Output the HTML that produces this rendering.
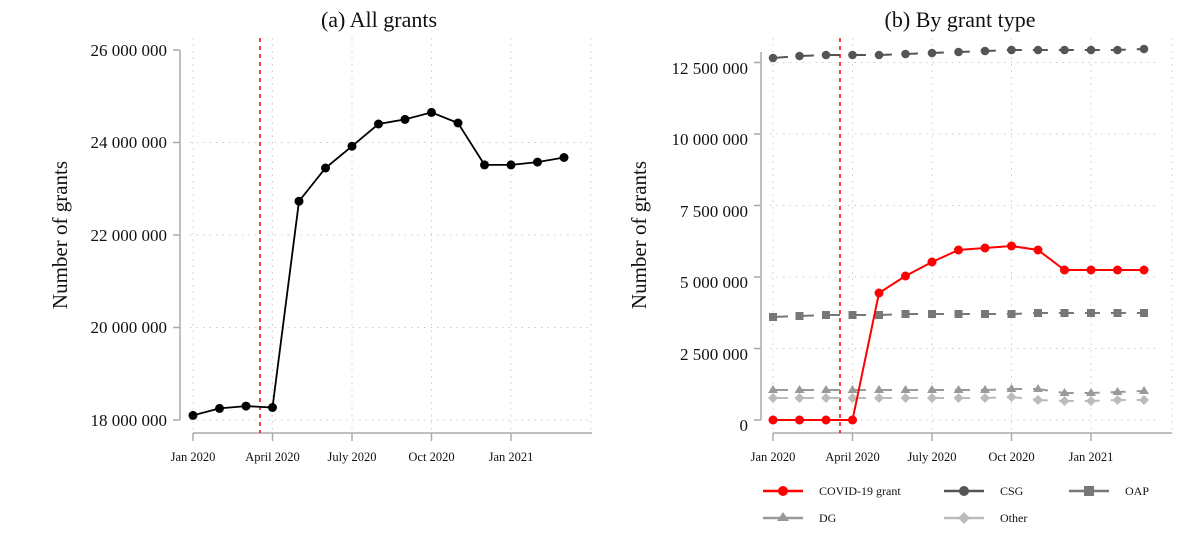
<!DOCTYPE html>
<html><head><meta charset="utf-8"><style>
html,body{margin:0;padding:0;background:#fff;}
svg{display:block;font-family:"Liberation Serif",serif;}
</style></head><body>
<svg width="1200" height="541" viewBox="0 0 1200 541" xmlns="http://www.w3.org/2000/svg">
<rect width="1200" height="541" fill="#fff"/>
<!-- LEFT PANEL -->
<text x="379" y="27" font-size="22" text-anchor="middle" fill="#111">(a) All grants</text>
<g stroke="#ccc" stroke-width="1" stroke-dasharray="1.5 5">
<line x1="193" y1="38" x2="193" y2="432"/><line x1="272.5" y1="38" x2="272.5" y2="432"/><line x1="352" y1="38" x2="352" y2="432"/><line x1="431.5" y1="38" x2="431.5" y2="432"/><line x1="511" y1="38" x2="511" y2="432"/><line x1="591" y1="38" x2="591" y2="432"/>
<line x1="190" y1="142.5" x2="590" y2="142.5"/><line x1="190" y1="235" x2="590" y2="235"/><line x1="190" y1="327.5" x2="590" y2="327.5"/><line x1="190" y1="420" x2="590" y2="420"/>
</g>
<g stroke="#aaa" stroke-width="1.5" fill="none">
<line x1="180" y1="50" x2="180" y2="420"/>
<line x1="173" y1="50" x2="180" y2="50"/><line x1="173" y1="142.5" x2="180" y2="142.5"/><line x1="173" y1="235" x2="180" y2="235"/><line x1="173" y1="327.5" x2="180" y2="327.5"/><line x1="173" y1="420" x2="180" y2="420"/>
<line x1="193" y1="433" x2="592" y2="433"/>
<line x1="193" y1="433" x2="193" y2="441"/><line x1="272.5" y1="433" x2="272.5" y2="441"/><line x1="352" y1="433" x2="352" y2="441"/><line x1="431.5" y1="433" x2="431.5" y2="441"/><line x1="511" y1="433" x2="511" y2="441"/>
</g>
<g font-size="17" text-anchor="end" fill="#111">
<text x="167" y="56">26 000 000</text><text x="167" y="148">24 000 000</text><text x="167" y="241">22 000 000</text><text x="167" y="333">20 000 000</text><text x="167" y="426">18 000 000</text>
</g>
<g font-size="12.5" text-anchor="middle" fill="#111">
<text x="193" y="461">Jan 2020</text><text x="272.5" y="461">April 2020</text><text x="352" y="461">July 2020</text><text x="431.5" y="461">Oct 2020</text><text x="511" y="461">Jan 2021</text>
</g>
<text transform="translate(67,235) rotate(-90)" font-size="21" text-anchor="middle" fill="#111">Number of grants</text>
<line x1="260" y1="38" x2="260" y2="433" stroke="#f00" stroke-width="1.5" stroke-dasharray="4 4"/>
<polyline fill="none" stroke="#000" stroke-width="1.8" points="193,415.4 219.5,408.4 246,406.1 272.5,407.5 299,201.2 325.5,168 352,146.2 378.5,124 405,119.4 431.5,112.4 458,123 484.5,164.9 511,164.9 537.5,162.1 564,157.5"/>
<g fill="#000">
<circle cx="193" cy="415.4" r="4.5"/><circle cx="219.5" cy="408.4" r="4.5"/><circle cx="246" cy="406.1" r="4.5"/><circle cx="272.5" cy="407.5" r="4.5"/><circle cx="299" cy="201.2" r="4.5"/><circle cx="325.5" cy="168" r="4.5"/><circle cx="352" cy="146.2" r="4.5"/><circle cx="378.5" cy="124" r="4.5"/><circle cx="405" cy="119.4" r="4.5"/><circle cx="431.5" cy="112.4" r="4.5"/><circle cx="458" cy="123" r="4.5"/><circle cx="484.5" cy="164.9" r="4.5"/><circle cx="511" cy="164.9" r="4.5"/><circle cx="537.5" cy="162.1" r="4.5"/><circle cx="564" cy="157.5" r="4.5"/>
</g>

<!-- RIGHT PANEL -->
<text x="960" y="27" font-size="22" text-anchor="middle" fill="#111">(b) By grant type</text>
<g stroke="#ccc" stroke-width="1" stroke-dasharray="1.5 5">
<line x1="773" y1="38" x2="773" y2="432"/><line x1="852.5" y1="38" x2="852.5" y2="432"/><line x1="932" y1="38" x2="932" y2="432"/><line x1="1011.5" y1="38" x2="1011.5" y2="432"/><line x1="1091" y1="38" x2="1091" y2="432"/><line x1="1172" y1="38" x2="1172" y2="432"/>
<line x1="770" y1="62.5" x2="1158" y2="62.5"/><line x1="770" y1="134" x2="1158" y2="134"/><line x1="770" y1="205.5" x2="1158" y2="205.5"/><line x1="770" y1="277" x2="1158" y2="277"/><line x1="770" y1="348.5" x2="1158" y2="348.5"/><line x1="770" y1="420" x2="1158" y2="420"/>
</g>
<g stroke="#aaa" stroke-width="1.5" fill="none">
<line x1="761" y1="52" x2="761" y2="420"/>
<line x1="754" y1="62.5" x2="761" y2="62.5"/><line x1="754" y1="134" x2="761" y2="134"/><line x1="754" y1="205.5" x2="761" y2="205.5"/><line x1="754" y1="277" x2="761" y2="277"/><line x1="754" y1="348.5" x2="761" y2="348.5"/><line x1="754" y1="420" x2="761" y2="420"/>
<line x1="773" y1="433" x2="1172" y2="433"/>
<line x1="773" y1="433" x2="773" y2="441"/><line x1="852.5" y1="433" x2="852.5" y2="441"/><line x1="932" y1="433" x2="932" y2="441"/><line x1="1011.5" y1="433" x2="1011.5" y2="441"/><line x1="1091" y1="433" x2="1091" y2="441"/>
</g>
<g font-size="17" text-anchor="end" fill="#111">
<text x="748" y="74">12 500 000</text><text x="748" y="145">10 000 000</text><text x="748" y="217">7 500 000</text><text x="748" y="288">5 000 000</text><text x="748" y="360">2 500 000</text><text x="748" y="431">0</text>
</g>
<g font-size="12.5" text-anchor="middle" fill="#111">
<text x="773" y="461">Jan 2020</text><text x="852.5" y="461">April 2020</text><text x="932" y="461">July 2020</text><text x="1011.5" y="461">Oct 2020</text><text x="1091" y="461">Jan 2021</text>
</g>
<text transform="translate(646,235) rotate(-90)" font-size="21" text-anchor="middle" fill="#111">Number of grants</text>
<line x1="840" y1="38" x2="840" y2="433" stroke="#f00" stroke-width="1.5" stroke-dasharray="4 4"/>

<!-- CSG -->
<polyline fill="none" stroke="#555" stroke-width="2" stroke-dasharray="15 11" points="773,58 799.5,56 826,55 852.5,55 879,55 905.5,54 932,53 958.5,52 985,51 1011.5,50 1038,50 1064.5,50 1091,50 1117.5,50 1144,49"/>
<g fill="#555"><circle cx="773" cy="58" r="4.3"/><circle cx="799.5" cy="56" r="4.3"/><circle cx="826" cy="55" r="4.3"/><circle cx="852.5" cy="55" r="4.3"/><circle cx="879" cy="55" r="4.3"/><circle cx="905.5" cy="54" r="4.3"/><circle cx="932" cy="53" r="4.3"/><circle cx="958.5" cy="52" r="4.3"/><circle cx="985" cy="51" r="4.3"/><circle cx="1011.5" cy="50" r="4.3"/><circle cx="1038" cy="50" r="4.3"/><circle cx="1064.5" cy="50" r="4.3"/><circle cx="1091" cy="50" r="4.3"/><circle cx="1117.5" cy="50" r="4.3"/><circle cx="1144" cy="49" r="4.3"/></g>
<!-- OAP -->
<polyline fill="none" stroke="#777" stroke-width="2" stroke-dasharray="15 11" points="773,317 799.5,316 826,315 852.5,315 879,315 905.5,314 932,314 958.5,314 985,314 1011.5,314 1038,313 1064.5,313 1091,313 1117.5,313 1144,313"/>
<g fill="#777"><rect x="769" y="313" width="8" height="8"/><rect x="795.5" y="312" width="8" height="8"/><rect x="822" y="311" width="8" height="8"/><rect x="848.5" y="311" width="8" height="8"/><rect x="875" y="311" width="8" height="8"/><rect x="901.5" y="310" width="8" height="8"/><rect x="928" y="310" width="8" height="8"/><rect x="954.5" y="310" width="8" height="8"/><rect x="981" y="310" width="8" height="8"/><rect x="1007.5" y="310" width="8" height="8"/><rect x="1034" y="309" width="8" height="8"/><rect x="1060.5" y="309" width="8" height="8"/><rect x="1087" y="309" width="8" height="8"/><rect x="1113.5" y="309" width="8" height="8"/><rect x="1140" y="309" width="8" height="8"/></g>
<!-- DG -->
<polyline fill="none" stroke="#999" stroke-width="2" stroke-dasharray="15 11" points="773,390 799.5,390 826,390 852.5,390 879,390 905.5,390 932,390 958.5,390 985,390 1011.5,389 1038,389 1064.5,393 1091,393 1117.5,392 1144,391"/>
<g fill="#999"><path d="M773,385 l5,8 h-10z"/><path d="M799.5,385 l5,8 h-10z"/><path d="M826,385 l5,8 h-10z"/><path d="M852.5,385 l5,8 h-10z"/><path d="M879,385 l5,8 h-10z"/><path d="M905.5,385 l5,8 h-10z"/><path d="M932,385 l5,8 h-10z"/><path d="M958.5,385 l5,8 h-10z"/><path d="M985,385 l5,8 h-10z"/><path d="M1011.5,384 l5,8 h-10z"/><path d="M1038,384 l5,8 h-10z"/><path d="M1064.5,388 l5,8 h-10z"/><path d="M1091,388 l5,8 h-10z"/><path d="M1117.5,387 l5,8 h-10z"/><path d="M1144,386 l5,8 h-10z"/></g>
<!-- Other -->
<polyline fill="none" stroke="#bbb" stroke-width="2" stroke-dasharray="15 11" points="773,398 799.5,398 826,398 852.5,398 879,398 905.5,398 932,398 958.5,398 985,398 1011.5,397 1038,400 1064.5,401 1091,401 1117.5,400 1144,400"/>
<g fill="#bbb"><path d="M773,393 l5,5 -5,5 -5,-5z"/><path d="M799.5,393 l5,5 -5,5 -5,-5z"/><path d="M826,393 l5,5 -5,5 -5,-5z"/><path d="M852.5,393 l5,5 -5,5 -5,-5z"/><path d="M879,393 l5,5 -5,5 -5,-5z"/><path d="M905.5,393 l5,5 -5,5 -5,-5z"/><path d="M932,393 l5,5 -5,5 -5,-5z"/><path d="M958.5,393 l5,5 -5,5 -5,-5z"/><path d="M985,393 l5,5 -5,5 -5,-5z"/><path d="M1011.5,392 l5,5 -5,5 -5,-5z"/><path d="M1038,395 l5,5 -5,5 -5,-5z"/><path d="M1064.5,396 l5,5 -5,5 -5,-5z"/><path d="M1091,396 l5,5 -5,5 -5,-5z"/><path d="M1117.5,395 l5,5 -5,5 -5,-5z"/><path d="M1144,395 l5,5 -5,5 -5,-5z"/></g>
<!-- COVID -->
<polyline fill="none" stroke="#f00" stroke-width="2" points="773,420 799.5,420 826,420 852.5,420 879,293 905.5,276 932,262 958.5,250 985,248 1011.5,246 1038,250 1064.5,270 1091,270 1117.5,270 1144,270"/>
<g fill="#f00"><circle cx="773" cy="420" r="4.5"/><circle cx="799.5" cy="420" r="4.5"/><circle cx="826" cy="420" r="4.5"/><circle cx="852.5" cy="420" r="4.5"/><circle cx="879" cy="293" r="4.5"/><circle cx="905.5" cy="276" r="4.5"/><circle cx="932" cy="262" r="4.5"/><circle cx="958.5" cy="250" r="4.5"/><circle cx="985" cy="248" r="4.5"/><circle cx="1011.5" cy="246" r="4.5"/><circle cx="1038" cy="250" r="4.5"/><circle cx="1064.5" cy="270" r="4.5"/><circle cx="1091" cy="270" r="4.5"/><circle cx="1117.5" cy="270" r="4.5"/><circle cx="1144" cy="270" r="4.5"/></g>

<!-- LEGEND -->
<g font-size="12" fill="#111">
<line x1="763" y1="491" x2="803" y2="491" stroke="#f00" stroke-width="2.5"/><circle cx="783" cy="491" r="5" fill="#f00"/><text x="819" y="495">COVID-19 grant</text>
<line x1="944" y1="491" x2="984" y2="491" stroke="#555" stroke-width="2.5"/><circle cx="964" cy="491" r="5" fill="#555"/><text x="1000" y="495">CSG</text>
<line x1="1069" y1="491" x2="1109" y2="491" stroke="#777" stroke-width="2.5"/><rect x="1084" y="486" width="10" height="10" fill="#777"/><text x="1125" y="495">OAP</text>
<line x1="763" y1="518" x2="803" y2="518" stroke="#999" stroke-width="2.5"/><path d="M783,512 l6,9 h-12z" fill="#999"/><text x="819" y="522">DG</text>
<line x1="944" y1="518" x2="984" y2="518" stroke="#bbb" stroke-width="2.5"/><path d="M964,512 l6,6 -6,6 -6,-6z" fill="#bbb"/><text x="1000" y="522">Other</text>
</g>
</svg>
</body></html>
